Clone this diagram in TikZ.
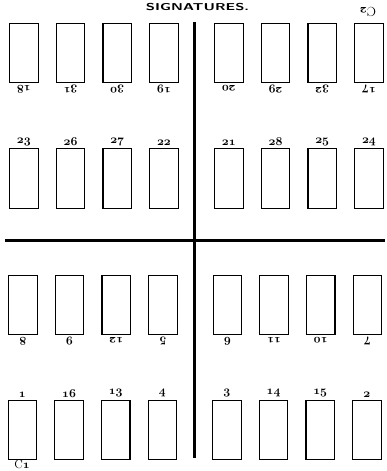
\documentclass[tikz,border=0pt]{standalone}
\usepackage{graphicx}
\newcommand\folio[1]{{\usefont{OML}{cmm}{b}{it}#1}}
\begin{document}
\begin{tikzpicture}[x=1pt,y=-1pt,line width=0.8pt,
    page/.style={draw,line width=1.1pt,minimum width=28.5pt,minimum height=59.5pt,
      inner sep=0pt,anchor=north west},
    num/.style={font=\fontsize{13}{13}\selectfont,inner sep=0.5pt},
    fold/.style={line width=2.6pt}]
    \useasboundingbox (0,0) rectangle (386,471);
    \node[font=\fontsize{10}{10}\selectfont\sffamily\bfseries] (title) at (197.5,7)
      {\scalebox{1.5}[1]{SIGNATURES.}};
    % upper half, figures turned over below the pages
    \foreach \n [count=\i from 0] in {18,31,30,19} {
      \node[page] (p\n) at (9+46.7*\i,22.5) {};
      \node[num,rotate=180,anchor=south] (l\n) at ([yshift=-1.5pt]p\n.south)
        {\folio{\n}};
    }
    \foreach \n [count=\i from 0] in {20,29,32,17} {
      \node[page] (p\n) at (214+46.7*\i,22.5) {};
      \node[num,rotate=180,anchor=south] (l\n) at ([yshift=-1.5pt]p\n.south)
        {\folio{\n}};
    }
    \foreach \n [count=\i from 0] in {23,26,27,22} {
      \node[page] (p\n) at (9+46.7*\i,148) {};
      \node[num,anchor=south] (l\n) at ([yshift=1.5pt]p\n.north) {\folio{\n}};
    }
    \foreach \n [count=\i from 0] in {21,28,25,24} {
      \node[page] (p\n) at (214+46.7*\i,148) {};
      \node[num,anchor=south] (l\n) at ([yshift=1.5pt]p\n.north) {\folio{\n}};
    }
    % lower half
    \foreach \n [count=\i from 0] in {8,9,12,5} {
      \node[page] (p\n) at (8+46.7*\i,274.5) {};
      \node[num,rotate=180,anchor=south] (l\n) at ([yshift=-1.5pt]p\n.south)
        {\folio{\n}};
    }
    \foreach \n [count=\i from 0] in {6,11,10,7} {
      \node[page] (p\n) at (212.5+46.7*\i,274.5) {};
      \node[num,rotate=180,anchor=south] (l\n) at ([yshift=-1.5pt]p\n.south)
        {\folio{\n}};
    }
    \foreach \n [count=\i from 0] in {1,16,13,4} {
      \node[page] (p\n) at (7.5+46.7*\i,399.5) {};
      \node[num,anchor=south] (l\n) at ([yshift=1.5pt]p\n.north) {\folio{\n}};
    }
    \foreach \n [count=\i from 0] in {3,14,15,2} {
      \node[page] (p\n) at (212+46.7*\i,399.5) {};
      \node[num,anchor=south] (l\n) at ([yshift=1.5pt]p\n.north) {\folio{\n}};
    }
    \node[num,rotate=180] (sigtwo) at (368,12) {C\folio{2}};
    \node[num,font=\fontsize{12}{12}\selectfont] (sigone) at (22,464.5)
      {C\folio{1}};
    % folds
    \coordinate (foldtop) at (194.5,22);
    \coordinate (foldbot) at (194.5,457.5);
    \coordinate (foldleft) at (5,240.5);
    \coordinate (foldright) at (385,240.5);
    \draw[fold] (foldtop) -- (foldbot);
    \draw[fold] (foldleft) -- (foldright);
  \end{tikzpicture}
\end{document}
